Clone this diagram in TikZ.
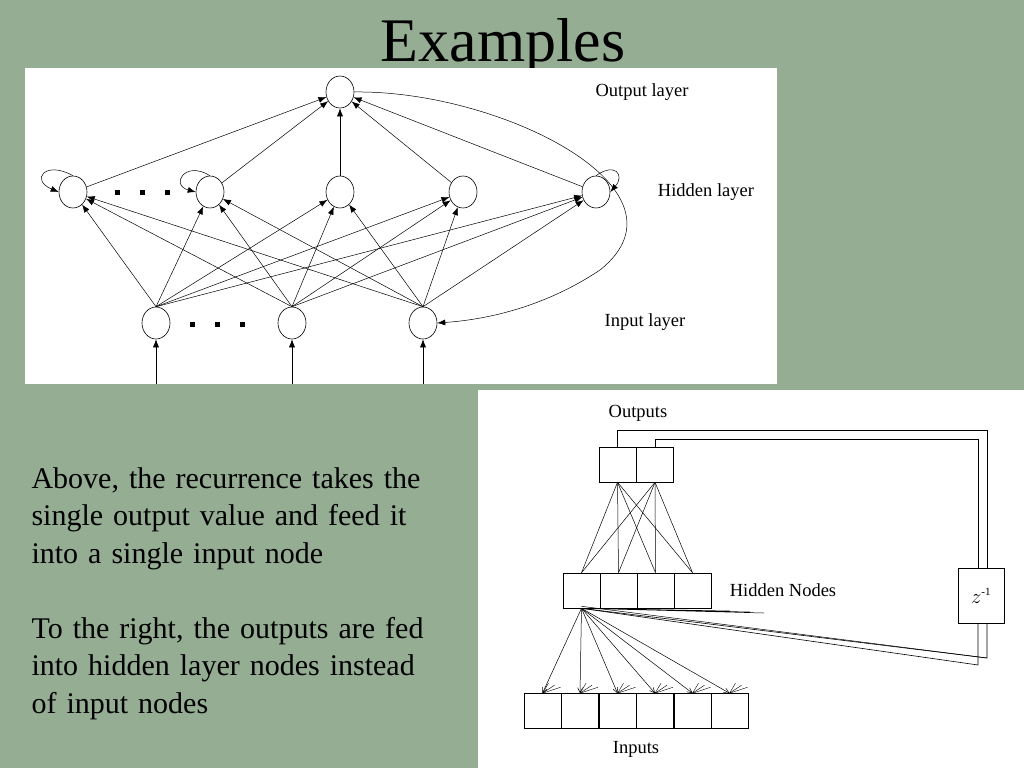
\documentclass[tikz,border=0pt]{standalone}
\usepackage{fontspec}
\setmainfont{Liberation Serif}
\usetikzlibrary{arrows.meta,shapes.geometric}
\definecolor{bg}{HTML}{94AD93}
\begin{document}
\begin{tikzpicture}[x=1pt,y=-1pt,
  neu/.style={draw,ellipse,minimum width=28pt,minimum height=32pt,inner sep=0pt,line width=0.6pt},
  con/.style={-{Latex[length=8pt,width=6pt]},line width=0.5pt},
  box/.style={draw,minimum width=37pt,minimum height=35pt,inner sep=0pt,line width=0.6pt},
  lab/.style={font=\fontsize{18.5}{20}\selectfont},
  body/.style={font=\fontsize{30}{37.5}\selectfont,align=left,anchor=north west,text width=440pt}]
\useasboundingbox (0,0) rectangle (1024,768);
\fill[bg] (0,0) rectangle (1024,768);
\node (title) at (503,47) {\fontsize{62}{66}\selectfont Examples};
\fill[white] (25,68) rectangle (777,384);
\fill[white] (478,390) rectangle (1024,768);
% top network
\node[neu] (o) at (340,92) {};
\foreach \i/\x in {1/73,2/210,3/340,4/463,5/596} \node[neu] (h\i) at (\x,192) {};
\foreach \i/\x in {1/156,2/292,3/423} {\node[neu] (i\i) at (\x,323) {};
  \coordinate (s\i) at (\x,384); \draw[con] (s\i) -- (i\i.south);}
\foreach \i in {1,...,5} \draw[con] (h\i) -- (o);
\foreach \i in {1,2,3} \foreach \j in {1,...,5} \draw[con] (i\i.north) -- (h\j);
\draw[con] (h1.north) .. controls (45,160) and (30,180) .. (h1.west);
\draw[con] (h2.north) .. controls (185,160) and (170,185) .. (h2.west);
\draw[con] (h5.north) .. controls (615,162) and (625,175) .. (h5.east);
\draw[con] (o.east) .. controls (500,90) and (700,190) .. (600,270) .. controls (540,310) and (480,320) .. (i3.east);
\foreach \x in {115,140,165} \fill (\x,190) rectangle +(5,5);
\foreach \x in {190,215,240} \fill (\x,322) rectangle +(5,5);
\node[lab] (lo) at (642,92) {Output layer};
\node[lab] (lh) at (706,192) {Hidden layer};
\node[lab] (li) at (645,322) {Input layer};
% text
\node[body] (txt) at (28,464) {Above, the recurrence takes the\\single output value and feed it\\into a single input node\\[37.5pt]To the right, the outputs are fed\\into hidden layer nodes instead\\of input nodes};
% bottom right
\foreach \i/\x in {1/617.5,2/655} \node[box] (ob\i) at (\x,464.5) {};
\foreach \i/\x in {1/581.5,2/618.5,3/655.5,4/692.5} \node[box] (hb\i) at (\x,590.5) {};
\foreach \i/\x in {1/542.5,2/580,3/617.5,4/655,5/692.5,6/729.5} \node[box] (ib\i) at (\x,711) {};
\node[draw,minimum width=46pt,minimum height=55pt,inner sep=0pt,line width=0.6pt] (z) at (981,596) {\fontsize{20}{20}\selectfont$z^{\mbox{\fontsize{11}{11}\selectfont -1}}$};
\foreach \i in {1,2} \foreach \j in {1,...,4} \draw[line width=0.5pt] (ob\i.south) -- (hb\j.north);
\foreach \j in {1,...,6} {\draw[con,-{Straight Barb[length=5pt,width=5pt]}] (hb1.south) -- (ib\j.north);
  \foreach \d in {6,12,18} \draw[line width=0.4pt] (ib\j.north) -- ++(\d,-12+\d/3);}
\coordinate (t1) at (987,568); \coordinate (t2) at (978,568);
\coordinate (b1) at (987,623); \coordinate (b2) at (978,623);
\coordinate (c1) at (987,658); \coordinate (c2) at (978,665);
\draw[line width=0.6pt] (ob1.north) |- (987,430) -- (t1);
\draw[line width=0.6pt] (ob2.north) |- (978,439) -- (t2);
\draw[line width=0.6pt] (b1) -- (c1) -- (hb1.south);
\draw[line width=0.6pt] (b2) -- (c2) -- (hb1.south);
\draw[line width=0.5pt] (c1) -- ([yshift=2pt]hb1.south);
\coordinate (f) at (764,613);
\draw[line width=0.5pt] (hb1.south) -- (f) (hb1.south) -- (750,612) (hb1.south) -- (730,611);
\node[lab] (lout) at (638,413) {Outputs};
\node[lab] (lhid) at (783,590) {Hidden Nodes};
\node[lab] (lin) at (636,749) {Inputs};
\end{tikzpicture}
\end{document}
